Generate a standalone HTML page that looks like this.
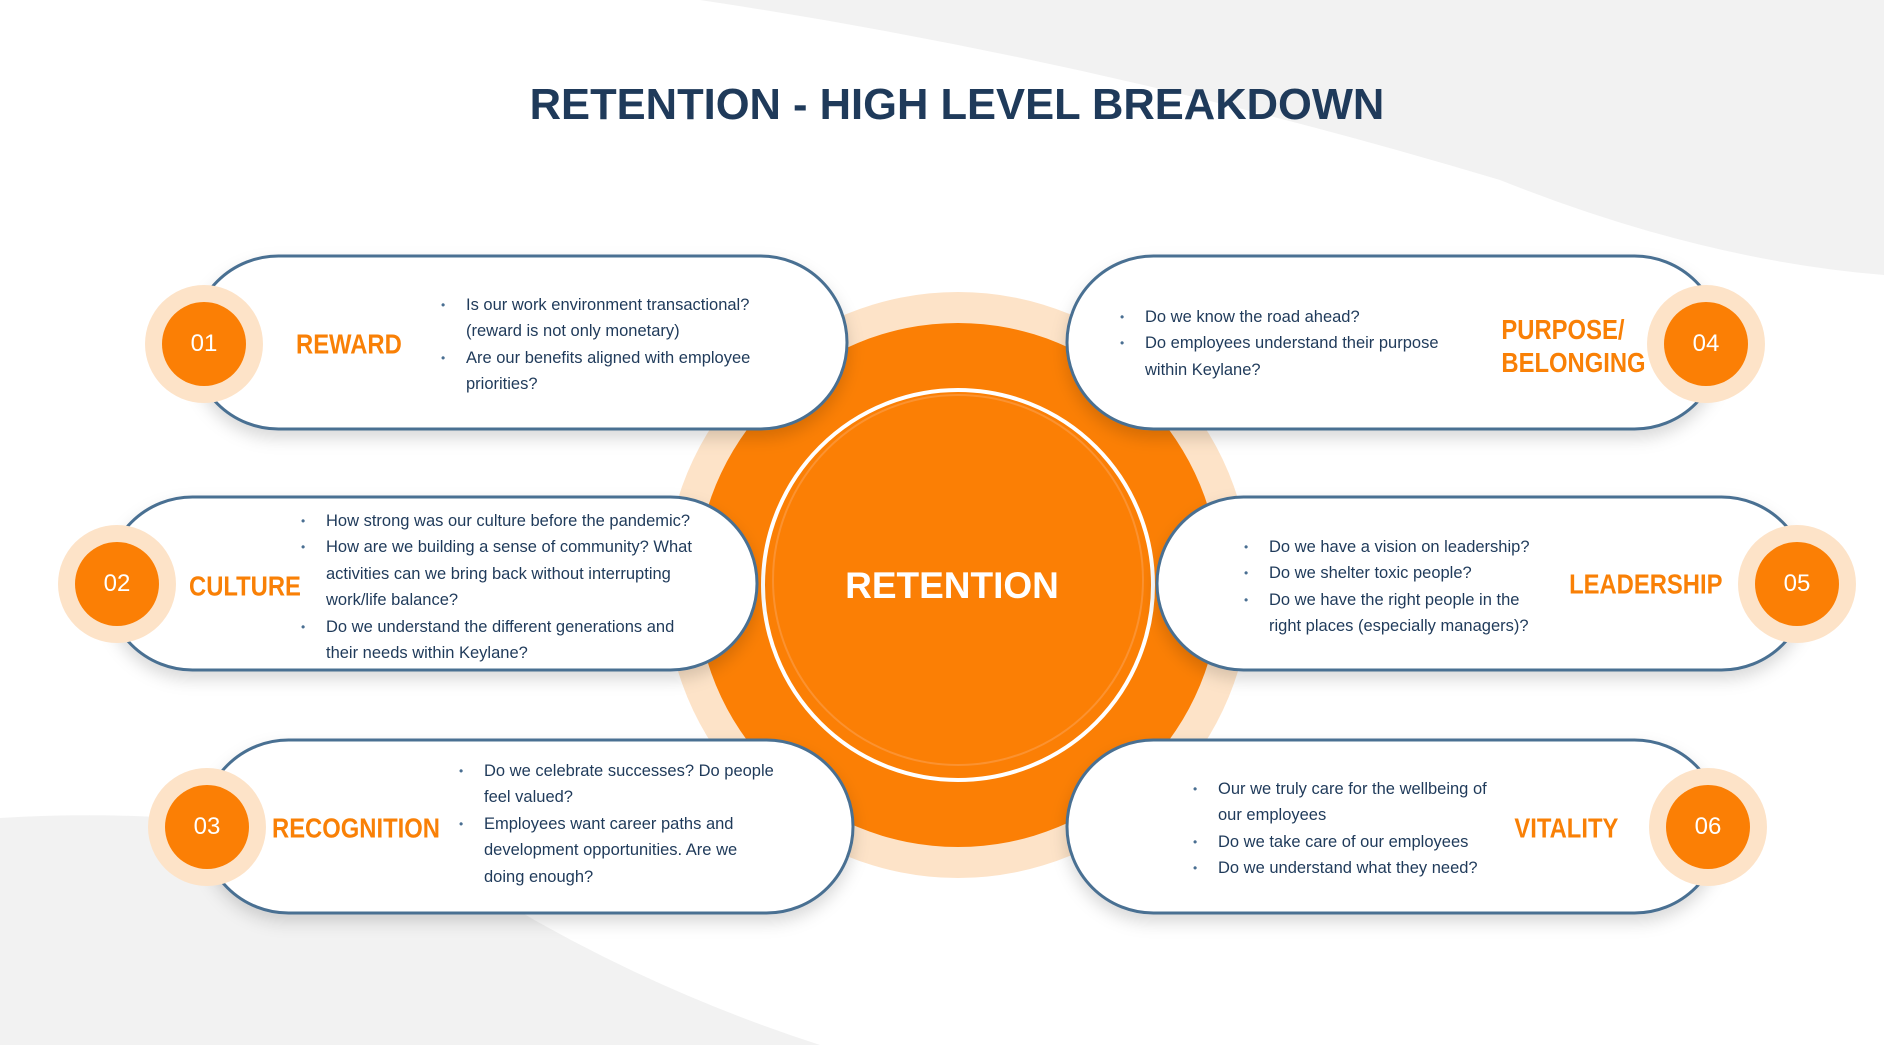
<!DOCTYPE html>
<html><head><meta charset="utf-8"><style>
body{margin:0;width:1884px;height:1045px;overflow:hidden;background:#fff;position:relative;font-family:"Liberation Sans",sans-serif}
svg{position:absolute;left:0;top:0}
.t{position:absolute;color:#1f3a5a;font-size:16.5px;line-height:26.4px}
.t ul{margin:0;padding:0;list-style:none}
.t li{position:relative;padding-left:25px}
.t li:before{content:"•";position:absolute;left:0;color:#4a6f92;font-size:12px}
.l{position:absolute;color:#f98006;font-weight:bold;font-size:28px;line-height:33px;transform:translateY(-50%) scaleX(0.85);transform-origin:left center;white-space:nowrap}
.r{transform-origin:right center}
.n{position:absolute;color:#fff;font-size:24px;width:100px;text-align:center;transform:translate(-50%,-50%)}
</style></head><body>
<svg width="1884" height="1045" viewBox="0 0 1884 1045">
<defs><filter id="sh" x="-10%" y="-20%" width="120%" height="150%"><feDropShadow dx="0" dy="8" stdDeviation="8" flood-color="#000" flood-opacity="0.15"/></filter></defs>
<path d="M700 0 Q1100 60 1500 180 Q1700 260 1884 275 L1884 0 Z" fill="#f2f2f2"/>
<path d="M0 818 Q300 800 500 900 Q650 990 820 1045 L0 1045 Z" fill="#f2f2f2"/>
<circle cx="958" cy="585" r="293" fill="#fde3c8"/>
<circle cx="958" cy="585" r="262" fill="#fb7f05"/>
<circle cx="958" cy="585" r="195" fill="none" stroke="#fff" stroke-width="4"/>
<circle cx="958" cy="580" r="185" fill="none" stroke="#fdb070" stroke-width="2" opacity="0.4"/>
<g fill="#fff" stroke="#4a6f92" stroke-width="3" filter="url(#sh)">
<rect x="192" y="256" width="655" height="173" rx="86.5"/>
<rect x="106" y="497" width="651" height="173" rx="86.5"/>
<rect x="202" y="740" width="651" height="173" rx="86.5"/>
<rect x="1067" y="256" width="654" height="173" rx="86.5"/>
<rect x="1157" y="497" width="651" height="173" rx="86.5"/>
<rect x="1067" y="740" width="654" height="173" rx="86.5"/>
</g>
<g>
<circle cx="204" cy="344" r="59" fill="#fde3c8"/><circle cx="204" cy="344" r="42" fill="#fb7f05"/>
<circle cx="117" cy="584" r="59" fill="#fde3c8"/><circle cx="117" cy="584" r="42" fill="#fb7f05"/>
<circle cx="207" cy="827" r="59" fill="#fde3c8"/><circle cx="207" cy="827" r="42" fill="#fb7f05"/>
<circle cx="1706" cy="344" r="59" fill="#fde3c8"/><circle cx="1706" cy="344" r="42" fill="#fb7f05"/>
<circle cx="1797" cy="584" r="59" fill="#fde3c8"/><circle cx="1797" cy="584" r="42" fill="#fb7f05"/>
<circle cx="1708" cy="827" r="59" fill="#fde3c8"/><circle cx="1708" cy="827" r="42" fill="#fb7f05"/>
</g>
</svg>
<div style="position:absolute;left:0;width:1914px;top:78px;text-align:center;color:#1f3a5a;font-weight:bold;font-size:43.5px;line-height:54px">RETENTION - HIGH LEVEL BREAKDOWN</div>
<div style="position:absolute;left:752px;width:400px;top:564px;text-align:center;color:#fff;font-weight:bold;font-size:37px;line-height:44px">RETENTION</div>
<div class="n" style="left:204px;top:344px">01</div>
<div class="n" style="left:117px;top:584px">02</div>
<div class="n" style="left:207px;top:827px">03</div>
<div class="n" style="left:1706px;top:344px">04</div>
<div class="n" style="left:1797px;top:584px">05</div>
<div class="n" style="left:1708px;top:827px">06</div>
<div class="l" style="left:296px;top:344px">REWARD</div>
<div class="l" style="left:189px;top:586px">CULTURE</div>
<div class="l" style="left:272px;top:828px">RECOGNITION</div>
<div class="l r" style="right:238px;top:346px;text-align:left">PURPOSE/<br>BELONGING</div>
<div class="l r" style="right:162px;top:584px">LEADERSHIP</div>
<div class="l r" style="right:266px;top:828px">VITALITY</div>
<div class="t" style="left:441px;top:292px;width:340px"><ul><li>Is our work environment transactional? (reward is not only monetary)</li><li>Are our benefits aligned with employee priorities?</li></ul></div>
<div class="t" style="left:301px;top:508px;width:400px"><ul><li>How strong was our culture before the pandemic?</li><li>How are we building a sense of community? What activities can we bring back without interrupting work/life balance?</li><li>Do we understand the different generations and their needs within Keylane?</li></ul></div>
<div class="t" style="left:459px;top:758px;width:320px"><ul><li>Do we celebrate successes? Do people feel valued?</li><li>Employees want career paths and development opportunities. Are we doing enough?</li></ul></div>
<div class="t" style="left:1120px;top:304px;width:350px"><ul><li>Do we know the road ahead?</li><li>Do employees understand their purpose within Keylane?</li></ul></div>
<div class="t" style="left:1244px;top:534px;width:290px"><ul><li>Do we have a vision on leadership?</li><li>Do we shelter toxic people?</li><li>Do we have the right people in the right places (especially managers)?</li></ul></div>
<div class="t" style="left:1193px;top:776px;width:320px"><ul><li>Our we truly care for the wellbeing of our employees</li><li>Do we take care of our employees</li><li>Do we understand what they need?</li></ul></div>
</body></html>
